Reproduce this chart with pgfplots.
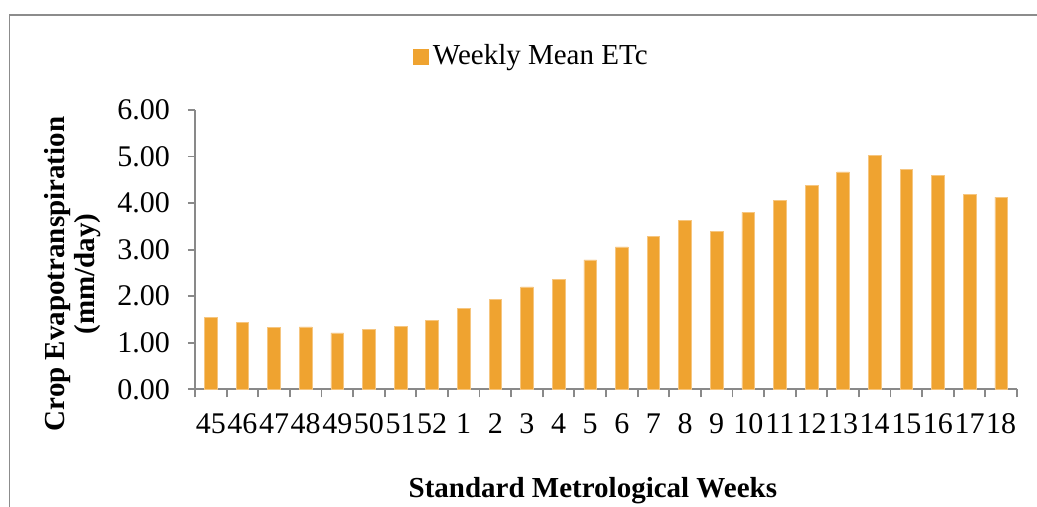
\documentclass[border=0pt]{standalone}
\usepackage{fontspec}
\setmainfont{Liberation Serif}
\usepackage{pgfplots}
\pgfplotsset{compat=1.18}
\definecolor{barc}{RGB}{239,163,48}
\definecolor{baredge}{RGB}{246,198,128}
\definecolor{axgray}{RGB}{137,137,137}
\definecolor{framegray}{RGB}{140,140,140}
\begin{document}
\begin{tikzpicture}
\path[use as bounding box] (0,0) rectangle (518.5pt,-253.5pt);
\draw[framegray, line width=0.85pt] (4.8pt,-254pt) -- (4.8pt,-7.5pt) -- (519pt,-7.5pt);
\begin{axis}[
  at={(97.5pt,-194.65pt)}, anchor=south west,
  scale only axis, width=411pt, height=139.65pt,
  xmin=-0.5, xmax=25.5, ymin=0, ymax=6,
  axis x line=bottom, axis y line=left,
  axis line style={axgray, line width=0.9pt, -},
  /pgf/number format/assume math mode=true,
  tick label style={font=\fontsize{15pt}{17pt}\selectfont, text=black},
  tick align=outside,
  ytick={0,1,...,6},
  yticklabel style={/pgf/number format/fixed, /pgf/number format/fixed zerofill, /pgf/number format/precision=2, xshift=-5.5pt},
  xticklabel style={yshift=-5pt},
  major tick length=3.5pt,
  minor tick length=4pt,
  major y tick style={axgray, line width=0.9pt},
  xtick={0,1,...,25},
  xticklabels={45,46,47,48,49,50,51,52,1,2,3,4,5,6,7,8,9,10,11,12,13,14,15,16,17,18},
  major x tick style={draw=none},
  minor xtick={-0.5,0.5,...,25.5},
  minor x tick style={axgray, line width=0.9pt},
  xlabel={Standard Metrological Weeks},
  ylabel={Crop Evapotranspiration\\(mm/day)},
  label style={font=\fontsize{14.5pt}{15pt}\selectfont\bfseries},
  xlabel style={at={(axis description cs:0.484,-0.3856)}, anchor=base},
  ylabel style={at={(axis description cs:-0.1484,0.4128)}, anchor=center, align=center},
  legend style={draw=none, fill=none, at={(axis description cs:0.4106,1.192)}, anchor=center,
    font=\fontsize{14.5pt}{17pt}\selectfont, legend cell align=left},
]
\addplot[ybar, bar width=6.35pt, fill=barc, draw=baredge, line width=0.3pt,
  legend image code/.code={\fill[barc] (0pt,-3.75pt) rectangle (7.5pt,3.75pt);}]
coordinates {
(0,1.55) (1,1.43) (2,1.33) (3,1.34) (4,1.21) (5,1.28) (6,1.35) (7,1.48)
(8,1.74) (9,1.93) (10,2.20) (11,2.36) (12,2.78) (13,3.06) (14,3.29) (15,3.62)
(16,3.39) (17,3.80) (18,4.05) (19,4.38) (20,4.67) (21,5.03) (22,4.73) (23,4.60)
(24,4.19) (25,4.13)
};
\addlegendentry{Weekly Mean ETc}
\end{axis}
\end{tikzpicture}
\end{document}
